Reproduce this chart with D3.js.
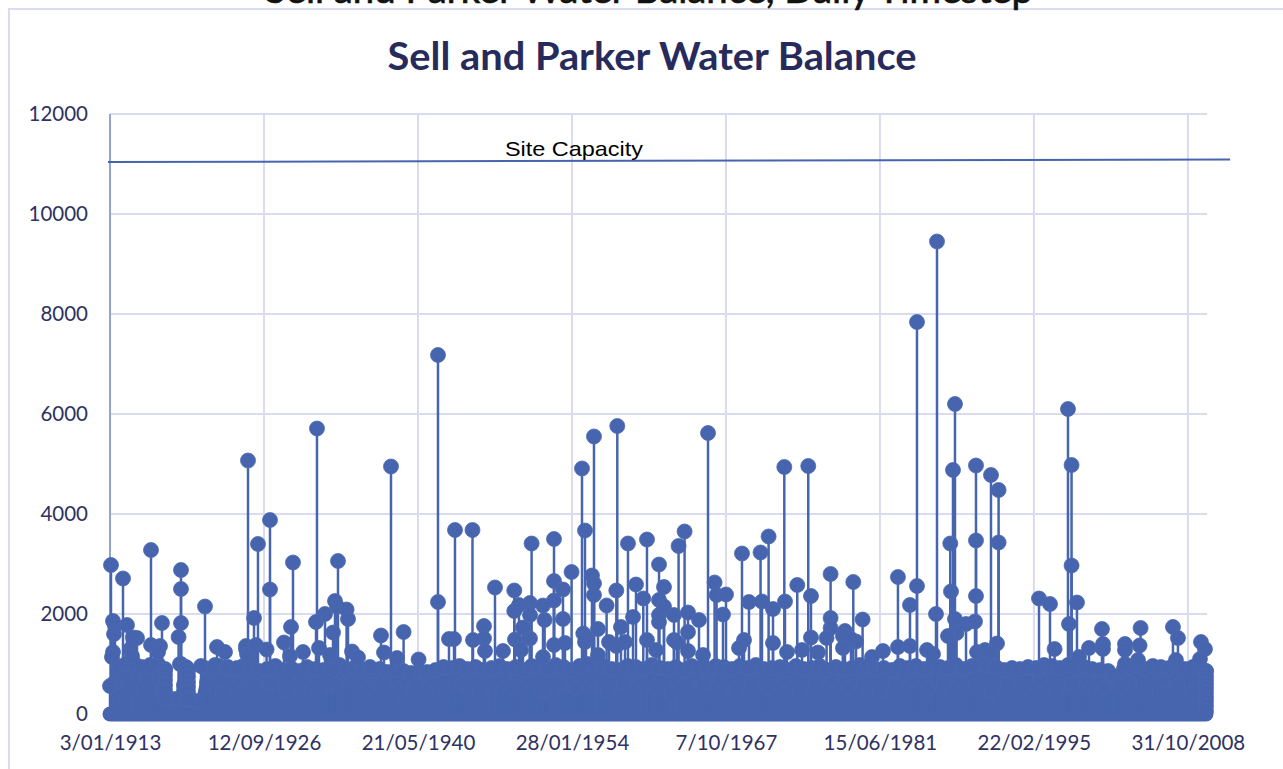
<!DOCTYPE html>
<html>
<head>
<meta charset="utf-8">
<title>Sell and Parker Water Balance</title>
<script src="https://cdn.jsdelivr.net/npm/d3@7"></script>
<style>
    html, body { margin: 0; padding: 0; background: #fff; overflow: hidden; }
    svg { display: block; }
    .axis text { font-family: Lato, "Open Sans", sans-serif; font-size: 20.5px; fill: #2e3263; }
    .grid line { stroke: #d9dbef; stroke-width: 2; }
</style>
</head>
<body>
<div id="chart"></div>
<script>
var tickDays = [0, 5000, 10000, 15000, 20000, 25000, 30000, 35000];
var tickLabels = ['3/01/1913', '12/09/1926', '21/05/1940', '28/01/1954', '7/10/1967', '15/06/1981', '22/02/1995', '31/10/2008'];
var flowTicks = [0, 2000, 4000, 6000, 8000, 10000, 12000];

var capacityDays = [-65, 36370];
var capacityFlows = [11040, 11090];

// the days of zero flow make a flat floor along the whole record
var floorDays = [0, 35587];
var floorFlows = [0, 0];

// the tall events that stand clear of the mass
var peakDays = [32, 422, 1331, 2305, 2305, 3085, 97, 162, 130, 552, 1688, 2305, 2227, 877, 747, 1331, 1624, 1559, 97, 64, 3474, 3734, 649, 714, 4416, 4448, 2305, 2468, 2955, 3409, 3831, 4124,
    4481, 6721, 9124, 10650, 5195, 4805, 5195, 5942, 7403, 4676, 7306, 7371, 7682, 7728, 6981, 6689, 7241, 5877, 5650, 8799, 9533, 8897, 10650, 11202, 11770, 11007, 11170, 10020, 9319, 4416, 4481, 4741, 5085, 6267, 6786, 7143, 7858, 8053, 5845, 8442,
    12501, 13127, 13690, 14417, 14988, 15326, 15423, 15715, 16472, 19418, 16819, 17436, 17827, 18462, 18657, 17988, 17079, 16440, 15650, 15715, 15715, 16125, 14417, 14709, 14417, 13637, 13637, 13280, 13127, 14060, 14112, 14709, 12144, 12144, 11787, 12176, 13410, 13637, 13150, 14417, 14774, 15845, 16592, 16982, 17316, 17827, 17827, 17827, 17988, 18313, 18768, 19125, 18768, 15368, 15456, 15423, 16203, 16440, 16722, 17436, 17729, 18313, 18410, 18768, 12761, 13345, 14060, 15845, 19255,
    21895, 22673, 20521, 21124, 21385, 19631, 19696, 20002, 19904, 22316, 23398, 24135, 22761, 21917, 20748, 21170, 21528, 23398, 23398, 24437, 23865, 23800, 22761, 23268, 24223, 24060, 23800, 20586, 20424, 21528, 22469, 21982, 22989, 25099, 24742, 25585, 26203, 25976, 25585, 25976, 26528, 26723, 26820, 26203, 26853,
    27372, 28119, 28606, 28853, 27284, 28119, 28853, 27307, 28119, 27437, 27437, 27489, 27210, 27795, 28087, 28801, 28152, 28411, 28574, 30165, 30522, 31398, 31138, 31222, 31222, 31106, 30671, 32210, 31788, 32243, 32243, 32957, 32957, 33464, 33431, 34515, 34677, 35425, 35554, 32957, 33379, 31463, 35392, 34612, 35587,
    1786, 1786, 1786, 1786, 1786, 1786, 2533, 2533, 2533, 2533, 2533, 2533,
    35587, 35587, 35587, 35587, 35587, 35587, 35587, 35587, 35587];
var peakFlows = [2980, 2710, 3280, 2880, 2500, 2150, 1860, 1760, 1600, 1780, 1820, 1820, 1540, 1520, 1530, 1380, 1360, 1240, 1240, 1140, 1340, 1240, 1290, 1160, 1300, 1200, 1000, 940, 960, 980, 940, 920,
    5070, 5710, 4950, 7180, 3880, 3400, 2490, 3030, 3060, 1920, 2260, 2150, 2090, 1900, 2000, 1840, 1630, 1740, 1430, 1570, 1640, 1230, 2240, 3680, 3680, 1500, 1500, 1090, 1120, 1360, 1180, 1380, 1290, 1240, 1320, 1180, 1250, 1130, 1160, 940,
    2530, 2470, 3410, 3500, 2840, 4910, 3670, 5550, 5760, 5620, 3410, 3490, 2990, 3360, 3650, 2540, 2590, 2470, 2770, 2610, 2380, 2170, 2660, 2490, 2270, 2220, 1980, 2180, 2060, 2170, 1880, 1900, 1760, 1510, 1480, 1260, 1730, 1510, 1490, 1380, 1420, 1700, 1740, 1940, 2310, 1840, 1980, 2280, 2150, 1980, 2030, 1880, 1640, 1610, 1520, 1440, 1440, 1360, 1440, 1480, 1280, 1480, 1430, 1260, 1260, 1280, 1140, 1180, 1180,
    4940, 4960, 3210, 3230, 3550, 2630, 2380, 2390, 1990, 2580, 2800, 2640, 2360, 2250, 2240, 2250, 2100, 1920, 1720, 1890, 1660, 1560, 1530, 1520, 1450, 1500, 1320, 1480, 1320, 1420, 1280, 1240, 1230, 1260, 1140, 2740, 2560, 2180, 1340, 1360, 1280, 1200, 2000, 7840, 9450,
    4880, 4970, 4780, 4480, 3410, 3470, 3430, 2450, 2360, 6200, 1900, 1620, 1560, 1800, 1850, 1410, 1240, 1280, 1200, 2310, 2200, 2230, 1800, 2970, 4980, 6100, 1300, 1700, 1320, 1400, 1300, 1400, 1280, 1720, 1370, 1740, 1520, 1440, 1300, 1000, 1080, 1140, 1100, 1080, 860,
    880, 780, 680, 580, 470, 320, 860, 750, 640, 540, 440, 300,
    760, 680, 600, 520, 430, 340, 250, 160, 60];

// top of the solid mass of everyday flows
var baseDays = [0, 260, 520, 780, 1040, 1300, 1560, 1790, 1980, 2110, 2270, 2500, 2790, 3020, 3280, 3540, 3800, 4050, 4320, 4570, 4840, 5100, 5370, 5620, 5880, 6150, 6400, 6660, 6930, 7180, 7450, 7700, 7970, 8220, 8480, 8750, 9000, 9270, 9530, 9780, 10050, 10300, 10570, 10830, 11090, 11350, 11600, 11870, 12130, 12390, 12650, 12900, 13170, 13430, 13690, 13950, 14210, 14470, 14730, 14990, 15250, 15510, 15770, 16030, 16290, 16550, 16810, 17070, 17330, 17590, 17850, 18110, 18370, 18630, 18890, 19150, 19410, 19670, 19930, 20190, 20450, 20710, 20970, 21230, 21490, 21750, 22010, 22270, 22530, 22790, 23050, 23310, 23570, 23830, 24090, 24350, 24610, 24870, 25130, 25390, 25650, 25910, 26170, 26430, 26690, 26950, 27210, 27470, 27730, 27990, 28250, 28510, 28770, 29030, 29290, 29550, 29810, 30070, 30330, 30590, 30850, 31110, 31370, 31630, 31890, 32150, 32410, 32570, 32720, 32830, 32920, 33080, 33340, 33600, 33860, 34120, 34380, 34640, 34900, 35160, 35420, 35587];
var baseFlows = [560, 960, 1000, 1020, 940, 980, 1000, 900, 280, 300, 1000, 920, 260, 940, 900, 960, 900, 880, 960, 920, 860, 900, 960, 880, 920, 860, 940, 900, 880, 960, 980, 900, 940, 880, 860, 900, 840, 880, 860, 820, 860, 840, 880, 940, 920, 960, 900, 940, 880, 920, 960, 900, 940, 880, 960, 920, 900, 980, 940, 880, 960, 1000, 920, 960, 900, 880, 960, 940, 900, 980, 920, 900, 940, 880, 960, 920, 900, 960, 940, 900, 960, 920, 980, 900, 920, 940, 880, 960, 900, 920, 960, 880, 940, 900, 920, 980, 960, 900, 920, 880, 960, 920, 960, 900, 960, 940, 920, 980, 900, 960, 1000, 960, 940, 880, 920, 900, 940, 920, 980, 960, 920, 980, 900, 940, 900, 880, 860, 760, 640, 560, 900, 940, 980, 900, 960, 940, 920, 960, 900, 940, 880, 860];

// some of the lower days, they show through as faint rims inside the mass
var midDays = [130, 650, 1170, 1690, 2400, 3150, 3670, 4190, 4710, 5230, 5750, 6270, 6790, 7310, 7830, 8350, 8870, 9390, 9910, 10430, 10950, 11470, 11990, 12510, 13030, 13550, 14070, 14590, 15110, 15630, 16150, 16670, 17190, 17710, 18230, 18750, 19270, 19790, 20310, 20830, 21350, 21870, 22390, 22910, 23430, 23950, 24470, 24990, 25510, 26030, 26550, 27070, 27590, 28110, 28630, 29150, 29670, 30190, 30710, 31230, 31750, 32270, 33100, 33620, 34140, 34660, 35180];
var midFlows = [620, 540, 700, 460, 580, 640, 420, 700, 560, 620, 480, 680, 440, 600, 720, 520, 640, 460, 580, 700, 500, 620, 440, 680, 560, 720, 480, 640, 520, 700, 460, 600, 680, 540, 420, 660, 580, 720, 480, 620, 540, 680, 460, 600, 700, 520, 640, 440, 580, 680, 500, 620, 720, 560, 460, 640, 540, 700, 480, 600, 660, 520, 620, 460, 680, 560, 440];

var width = 1283;
var height = 769;
var blue = '#4665ae';

var svg = d3.select('#chart')
    .append('svg')
    .attr('width', width)
    .attr('height', height);

var x = d3.scaleLinear().domain([0, 35620]).range([110, 1207]);
var y = d3.scaleLinear().domain([0, 12000]).range([714, 114]);

// outer chart frame, the top title of the page sits cut off above it
svg.append('path')
    .attr('d', 'M1283,9H9V769')
    .attr('fill', 'none')
    .attr('stroke', '#d9dcf1')
    .attr('stroke-width', 2);

svg.append('text')
    .attr('x', 649)
    .attr('y', 3)
    .attr('text-anchor', 'middle')
    .attr('textLength', 768)
    .attr('lengthAdjust', 'spacingAndGlyphs')
    .style('font-family', 'Lato, sans-serif')
    .style('font-size', '38px')
    .style('fill', '#111')
    .style('stroke', '#111')
    .style('stroke-width', 0.7)
    .text('Sell and Parker Water Balance, Daily Timestep');

svg.append('text')
    .attr('x', 652)
    .attr('y', 70)
    .attr('text-anchor', 'middle')
    .attr('textLength', 529)
    .attr('lengthAdjust', 'spacingAndGlyphs')
    .style('font-family', 'Lato, sans-serif')
    .style('font-weight', 'bold')
    .style('font-size', '39px')
    .style('fill', '#272b5b')
    .text('Sell and Parker Water Balance');

// grid
svg.append('g')
    .attr('class', 'grid')
    .selectAll('line')
    .data(flowTicks.filter(function(d) { return d > 0; }))
    .enter().append('line')
    .attr('x1', x(0))
    .attr('x2', x.range()[1])
    .attr('y1', function(d) { return y(d); })
    .attr('y2', function(d) { return y(d); });

svg.append('g')
    .attr('class', 'grid')
    .selectAll('line')
    .data(tickDays)
    .enter().append('line')
    .attr('x1', function(d) { return x(d); })
    .attr('x2', function(d) { return x(d); })
    .attr('y1', y(12000))
    .attr('y2', y(0))
    .style('stroke', function(d) { return d === 0 ? '#95a2d6' : null; });

// axes, lines hidden because the grid already draws them
var xAxis = svg.append('g')
    .attr('class', 'x axis')
    .attr('transform', 'translate(0,' + y(0) + ')')
    .call(d3.axisBottom(x)
        .tickValues(tickDays)
        .tickSize(0)
        .tickPadding(21)
        .tickFormat(function(d, i) { return tickLabels[i]; }));

var yAxis = svg.append('g')
    .attr('class', 'y axis')
    .attr('transform', 'translate(88,0)')
    .call(d3.axisLeft(y)
        .tickValues(flowTicks)
        .tickSize(0)
        .tickPadding(0)
        .tickFormat(d3.format('d')));

svg.selectAll('.axis .domain').remove();

// solid mass
var area = d3.area()
    .x(function(d) { return x(d.day); })
    .y0(y(0))
    .y1(function(d) { return y(d.flow); });

var baseData = baseDays.map(function(d, i) { return {day: d, flow: baseFlows[i]}; });
var midData = midDays.map(function(d, i) { return {day: d, flow: midFlows[i]}; });
var peakData = peakDays.map(function(d, i) { return {day: d, flow: peakFlows[i]}; });

svg.append('path')
    .datum(baseData)
    .attr('fill', blue)
    .attr('d', area);

var floorLine = d3.line()
    .x(function(d, i) { return x(floorDays[i]); })
    .y(function(d) { return y(d); });

svg.append('path')
    .datum(floorFlows)
    .attr('fill', 'none')
    .attr('stroke', blue)
    .attr('stroke-width', 15)
    .attr('stroke-linecap', 'round')
    .attr('d', floorLine);

var stems = peakData.concat(baseData);

svg.append('g')
    .selectAll('line')
    .data(stems)
    .enter().append('line')
    .attr('x1', function(d) { return x(d.day); })
    .attr('x2', function(d) { return x(d.day); })
    .attr('y1', y(0))
    .attr('y2', function(d) { return y(d.flow); })
    .attr('stroke', blue)
    .attr('stroke-width', 2.5);

svg.append('g')
    .selectAll('circle')
    .data(midData.concat(baseData, peakData))
    .enter().append('circle')
    .attr('cx', function(d) { return x(d.day); })
    .attr('cy', function(d) { return y(d.flow); })
    .attr('r', 7.5)
    .attr('fill', blue)
    .attr('stroke', '#4c6ab1')
    .attr('stroke-width', 0.8);

// site capacity line is drawn over the chart and runs past the plot
var capacityLine = d3.line()
    .x(function(d, i) { return x(capacityDays[i]); })
    .y(function(d) { return y(d); });

svg.append('path')
    .datum(capacityFlows)
    .attr('fill', 'none')
    .attr('stroke', '#4665ae')
    .attr('stroke-width', 2)
    .attr('d', capacityLine);

svg.append('text')
    .attr('x', 505)
    .attr('y', 156)
    .attr('textLength', 138)
    .attr('lengthAdjust', 'spacingAndGlyphs')
    .style('font-family', '"Liberation Sans", Arial, sans-serif')
    .style('font-size', '21px')
    .style('fill', '#000')
    .text('Site Capacity');
</script>
</body>
</html>
